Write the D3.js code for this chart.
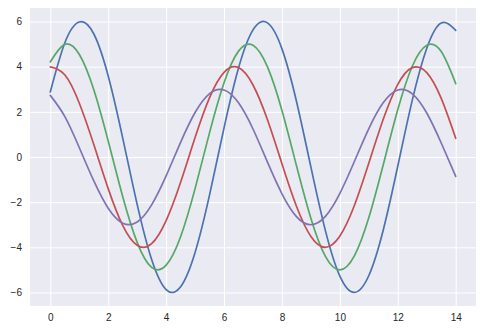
<!DOCTYPE html>
<html><head><meta charset="utf-8">
<script src="https://cdn.jsdelivr.net/npm/d3@7"></script>
<style>body{margin:0;background:#fff}svg{display:block}</style>
</head><body>
<script>
const xs = [0,0.5,1,1.5,2,2.5,3,3.5,4,4.5,5,5.5,6,6.5,7,7.5,8,8.5,9,9.5,10,10.5,11,11.5,12,12.5,13,13.5,14];
const blue = [2.88,5.05,5.98,5.46,3.59,0.85,-2.10,-4.54,-5.87,-5.75,-4.23,-1.68,1.29,3.94,5.63,5.94,4.79,2.47,-0.45,-3.26,-5.28,-6.00,-5.25,-3.22,-0.40,2.52,4.82,5.94,5.61];
const green = [4.21,4.99,4.55,2.99,0.71,-1.75,-3.78,-4.89,-4.79,-3.53,-1.40,1.08,3.29,4.69,4.95,3.99,2.06,-0.38,-2.72,-4.40,-5.00,-4.38,-2.68,-0.33,2.10,4.02,4.95,4.67,3.25];
const red = [3.99,3.64,2.39,0.56,-1.40,-3.03,-3.91,-3.84,-2.82,-1.12,0.86,2.63,3.75,3.96,3.19,1.65,-0.30,-2.18,-3.52,-4.00,-3.50,-2.15,-0.27,1.68,3.22,3.96,3.74,2.60,0.83];
const purple = [2.73,1.80,0.42,-1.05,-2.27,-2.93,-2.88,-2.12,-0.84,0.65,1.97,2.81,2.97,2.40,1.24,-0.23,-1.63,-2.64,-3.00,-2.63,-1.61,-0.20,1.26,2.41,2.97,2.80,1.95,0.62,-0.86];
const xTicks = [0,2,4,6,8,10,12,14];
const yTicks = [-6,-4,-2,0,2,4,6];
const series = [
  {name:"s1", values: blue, color:"#4C72B0"},
  {name:"s2", values: green, color:"#55A868"},
  {name:"s3", values: red, color:"#C44E52"},
  {name:"s4", values: purple, color:"#8172B2"}
];

const W = 501, H = 332;
const m = {left:30, right:25, top:8, bottom:26};
const svg = d3.select("body").append("svg").attr("width", W).attr("height", H);
const x = d3.scaleLinear().domain([-0.7, 14.7]).range([m.left, W - m.right]);
const y = d3.scaleLinear().domain([-6.6, 6.6]).range([H - m.bottom, m.top]);

svg.append("rect").attr("x", m.left).attr("y", m.top)
  .attr("width", W - m.left - m.right).attr("height", H - m.top - m.bottom)
  .attr("fill", "#EAEAF2");

const gx = svg.append("g").attr("transform", `translate(0,${H - m.bottom})`)
  .call(d3.axisBottom(x).tickValues(xTicks).tickSize(-(H - m.top - m.bottom)).tickPadding(8).tickFormat(d3.format("d")));
const gy = svg.append("g").attr("transform", `translate(${m.left},0)`)
  .call(d3.axisLeft(y).tickValues(yTicks).tickSize(-(W - m.left - m.right)).tickPadding(8).tickFormat(d => d < 0 ? "\u2212" + Math.abs(d) : d));
[gx, gy].forEach(g => {
  g.select(".domain").remove();
  g.selectAll(".tick line").attr("stroke", "#fff").attr("stroke-width", 1);
  g.selectAll(".tick text").attr("fill", "#262626").style("font-family", "'Liberation Sans', Arial, sans-serif").style("font-size", "10px");
});

const line = d3.line().x((d, i) => x(xs[i])).y(d => y(d)).curve(d3.curveNatural);
svg.append("clipPath").attr("id", "c").append("rect")
  .attr("x", m.left).attr("y", m.top).attr("width", W - m.left - m.right).attr("height", H - m.top - m.bottom);
svg.append("g").attr("clip-path", "url(#c)").selectAll("path").data(series).join("path")
  .attr("d", s => line(s.values)).attr("fill", "none").attr("stroke", s => s.color)
  .attr("stroke-width", 1.7).attr("stroke-linecap", "round");
</script>
</body></html>
